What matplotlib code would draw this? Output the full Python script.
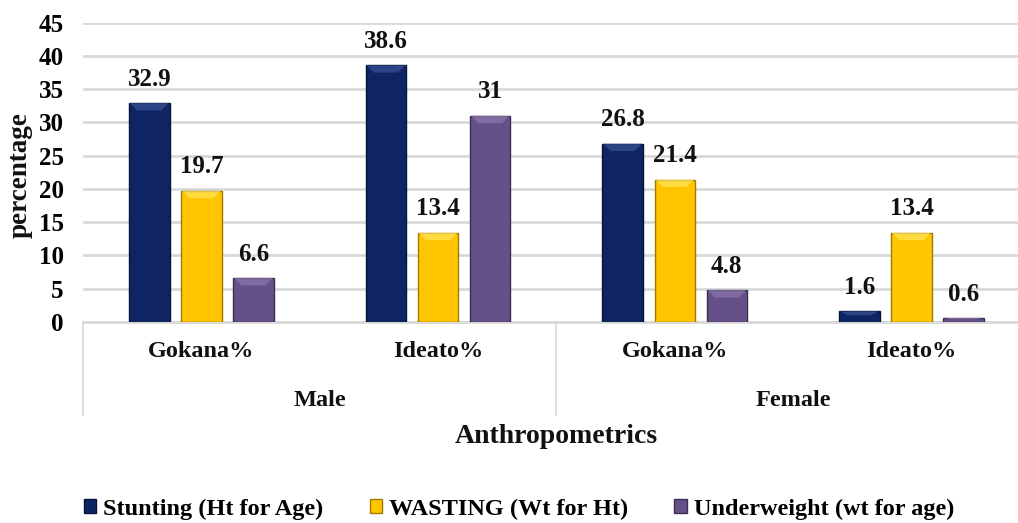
import matplotlib
matplotlib.use("Agg")
import matplotlib.pyplot as plt
from matplotlib.patches import Polygon, Patch
import numpy as np

groups = ["Male", "Female"]
categories = ["Gokana%", "Ideato%", "Gokana%", "Ideato%"]
series = ["Stunting (Ht for Age)", "WASTING (Wt for Ht)", "Underweight (wt for age)"]
stunting = [32.9, 38.6, 26.8, 1.6]
wasting = [19.7, 13.4, 21.4, 13.4]
underweight = [6.6, 31, 4.8, 0.6]
yticks = [0, 5, 10, 15, 20, 25, 30, 35, 40, 45]

colors = ["#0f2563", "#ffc600", "#66508a"]
edges = ["#07143a", "#a07a00", "#3b2c52"]
highlights = ["#3a5296", "#ffe45a", "#8d78ad"]

plt.rcParams['font.family'] = ['Liberation Serif', 'DejaVu Serif']
plt.rcParams['font.weight'] = 'bold'

fig = plt.figure(figsize=(10.18, 5.23), dpi=100)
ax = fig.add_axes([83/1018, 1 - 322/523, 1 - 83/1018, (322 - 22.7)/523])

x = np.arange(len(categories))
offsets = [-0.22, 0.0, 0.22]
width = 0.171
data = [stunting, wasting, underweight]

for i, vals in enumerate(data):
    bars = ax.bar(x + offsets[i], vals, width, color=colors[i], edgecolor=edges[i],
                  linewidth=1.0, zorder=3, label=series[i])
    for b, v in zip(bars, vals):
        x0 = b.get_x(); x1 = x0 + b.get_width(); top = b.get_height()
        h = min(1.1, top * 0.35)
        d = 0.035
        poly = Polygon([(x0 + 0.004, top), (x1 - 0.004, top), (x1 - d, top - h), (x0 + d, top - h)],
                       closed=True, facecolor=highlights[i], edgecolor='none', alpha=0.7, zorder=4)
        ax.add_patch(poly)
        ax.annotate(f"{v:g}", (b.get_x() + b.get_width()/2, top), xytext=(0, 9),
                    textcoords='offset points', ha='center', va='bottom',
                    fontsize=18, fontweight='bold', color='#111111')

ax.set_xlim(-0.5, -0.5 + (1018 - 83)/236.7)
ax.set_ylim(0, 45)
ax.set_yticks(yticks)
ax.tick_params(axis='y', length=0, pad=14, labelsize=18)
ax.set_xticks([])
ax.yaxis.grid(True, color='#d9d9d9', linewidth=2.0, zorder=0)
ax.set_axisbelow(True)
for s in ['top', 'right', 'left']:
    ax.spines[s].set_visible(False)
ax.spines['bottom'].set_color('#d9d9d9')
ax.spines['bottom'].set_linewidth(2.0)
for lbl in ax.get_yticklabels():
    lbl.set_fontweight('bold')

trans = ax.get_xaxis_transform()
for xi, c in zip(x, categories):
    ax.text(xi, -0.098, c, transform=trans, ha='center', va='center',
            fontsize=17.5, fontweight='bold', color='#111111')
for gi, g in enumerate(groups):
    ax.text(0.5 + 2*gi, -0.262, g, transform=trans, ha='center', va='center',
            fontsize=17.5, fontweight='bold', color='#111111')
for xv in [-0.5, 1.5, 3.5]:
    ax.plot([xv, xv], [0, -0.311], transform=trans, color='#d9d9d9', linewidth=1.2,
            clip_on=False)

ax.text(1.5, -0.384, "Anthropometrics", transform=trans, ha='center', va='center',
        fontsize=20, fontweight='bold', color='#111111')
fig.text(20/1018, 1 - 175/523, "percentage", rotation=90, ha='center', va='center',
         fontsize=19.5, fontweight='bold', color='#111111')

handles = [Patch(facecolor=colors[i], edgecolor=edges[i]) for i in range(3)]
leg = fig.legend(handles, series, loc='center', bbox_to_anchor=(519/1018, 1 - 509/523), ncol=3,
                 frameon=False, handlelength=0.5, handleheight=0.5,
                 handletextpad=0.3, columnspacing=1.9, prop={'weight': 'bold', 'size': 17.5})

fig.savefig("out.png", dpi=100)
